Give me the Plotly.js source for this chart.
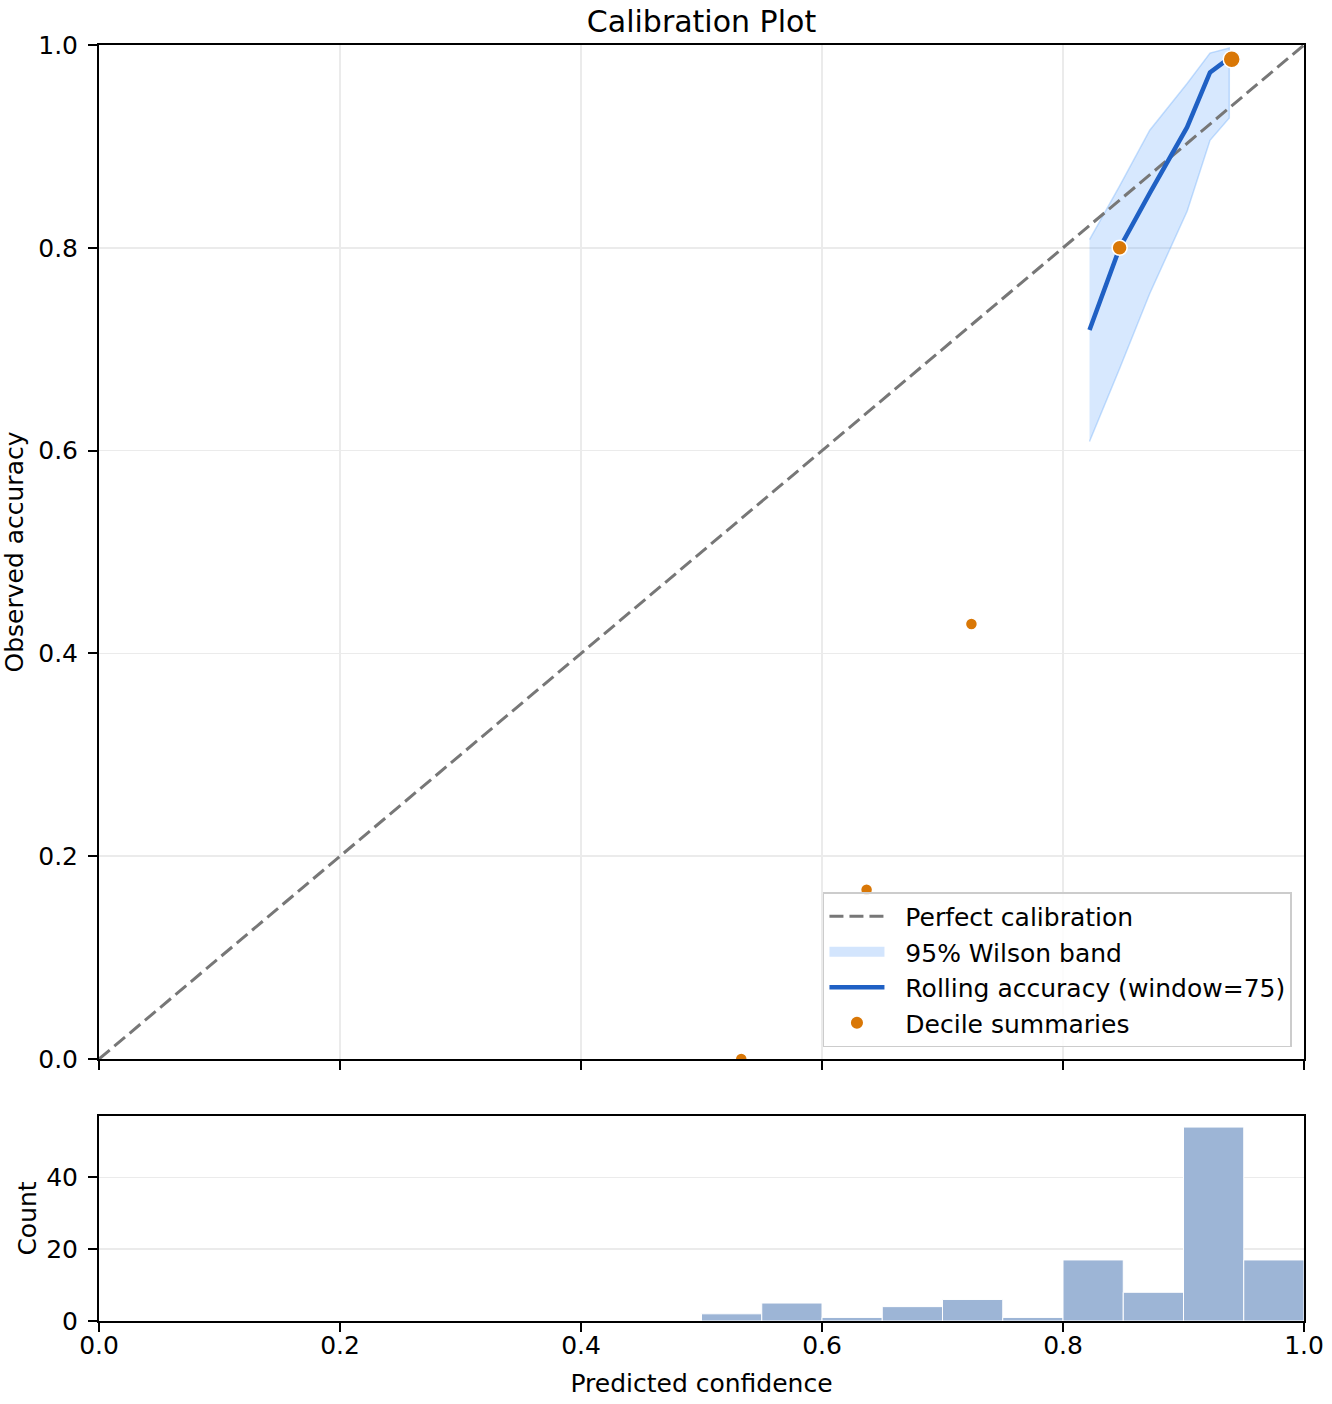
<!DOCTYPE html>
<html>
<head>
<meta charset="utf-8">
<script src="https://cdn.plot.ly/plotly-3.0.1.min.js"></script>
<style>
  html, body { margin: 0; padding: 0; background: #fff; }
  #chart { width: 1332px; height: 1404px; }
</style>
</head>
<body>
<div id="chart"></div>
<script>
// perfect calibration diagonal
var diagX = [0, 1];
var diagY = [0, 1];

// rolling accuracy (window=75) and its 95% Wilson band
var rollX = [0.822, 0.847, 0.872, 0.903, 0.922, 0.938];
var rollY = [0.719, 0.800, 0.854, 0.919, 0.973, 0.987];
var bandUpper = [0.808, 0.861, 0.916, 0.962, 0.992, 0.997];
var bandLower = [0.609, 0.681, 0.755, 0.836, 0.906, 0.928];

// decile summaries
var decileX = [0.533, 0.637, 0.724, 0.847, 0.940];
var decileY = [0.000, 0.167, 0.429, 0.800, 0.986];

// histogram of predicted confidence
var binStarts = [0.50, 0.55, 0.60, 0.65, 0.70, 0.75, 0.80, 0.85, 0.90, 0.95];
var binCounts = [2, 5, 1, 4, 6, 1, 17, 8, 54, 17];

var fontFam = 'DejaVu Sans, sans-serif';
var pad = '\u00a0\u00a0'; // a bit of room between legend handle and text

// polygon for the band: upper forward, lower backward
var bandX = rollX.concat(rollX.slice().reverse());
var bandY = bandUpper.concat(bandLower.slice().reverse());

var traces = [
    {
        x: bandX, y: bandY,
        type: 'scatter', mode: 'lines',
        fill: 'toself',
        fillcolor: 'rgba(96,165,250,0.25)',
        line: {color: 'rgba(96,165,250,0.35)', width: 1.5},
        showlegend: false,
        xaxis: 'x', yaxis: 'y'
    },
    // legend-only handle for the band (a filled rectangle look)
    {
        x: [null], y: [null],
        type: 'scatter', mode: 'lines',
        line: {color: '#d3e5fd', width: 18},
        name: pad + '95% Wilson band',
        legendrank: 2,
        xaxis: 'x', yaxis: 'y'
    },
    {
        x: diagX, y: diagY,
        type: 'scatter', mode: 'lines',
        line: {color: '#777777', width: 3, dash: '14px,6px'},
        name: pad + 'Perfect calibration',
        legendrank: 1,
        xaxis: 'x', yaxis: 'y'
    },
    {
        x: rollX, y: rollY,
        type: 'scatter', mode: 'lines',
        line: {color: '#1f60c4', width: 4.5},
        name: pad + 'Rolling accuracy (window=75)',
        legendrank: 3,
        xaxis: 'x', yaxis: 'y'
    },
    {
        x: decileX, y: decileY,
        type: 'scatter', mode: 'markers',
        marker: {color: '#d97706', opacity: 1, size: [12, 12, 12, 15, 17], line: {color: '#ffffff', width: 1.5}},
        name: pad + 'Decile summaries',
        legendrank: 4,
        xaxis: 'x', yaxis: 'y'
    },
    {
        x: binStarts, y: binCounts,
        type: 'bar',
        width: 0.05, offset: 0,
        marker: {color: '#9db5d6', line: {color: '#ffffff', width: 1}},
        showlegend: false,
        xaxis: 'x2', yaxis: 'y2'
    }
];

var axisCommon = {
    showline: true, linecolor: '#000', linewidth: 2, mirror: true,
    ticks: 'outside', ticklen: 9, tickwidth: 2, tickcolor: '#000',
    showgrid: true, gridcolor: '#ebebeb', gridwidth: 1.5,
    zeroline: false,
    tickfont: {family: fontFam, size: 25, color: '#000'}
};

var layout = {
    width: 1332, height: 1404,
    margin: {l: 99, r: 28, t: 45, b: 83},
    paper_bgcolor: '#fff', plot_bgcolor: '#fff',
    font: {family: fontFam, size: 25, color: '#000'},
    title: {
        text: 'Calibration Plot',
        font: {family: fontFam, size: 30, color: '#000'},
        x: 0.5, xref: 'paper', xanchor: 'center',
        y: 1 - 21 / 1404, yref: 'container', yanchor: 'middle'
    },
    showlegend: true,
    legend: {
        x: 0.990, y: 0.2147, xanchor: 'right', yanchor: 'bottom',
        bgcolor: 'rgba(255,255,255,0.85)',
        bordercolor: '#cccccc', borderwidth: 1.5,
        font: {family: fontFam, size: 25, color: '#000'},
        itemwidth: 55,
        tracegroupgap: 0
    },
    xaxis: Object.assign({}, axisCommon, {
        domain: [0, 1], anchor: 'y',
        range: [0, 1], dtick: 0.2, tick0: 0,
        showticklabels: false
    }),
    yaxis: Object.assign({}, axisCommon, {
        domain: [0.2053, 1], anchor: 'x',
        range: [0, 1], dtick: 0.2, tick0: 0, tickformat: '.1f',
        ticklabelstandoff: 5,
        title: {text: 'Observed accuracy', font: {family: fontFam, size: 25}, standoff: 12}
    }),
    xaxis2: Object.assign({}, axisCommon, {
        domain: [0, 1], anchor: 'y2', matches: 'x',
        range: [0, 1], dtick: 0.2, tick0: 0, tickformat: '.1f',
        showgrid: false,
        ticklabelstandoff: -8,
        title: {text: 'Predicted confidence', font: {family: fontFam, size: 25}, standoff: 15}
    }),
    yaxis2: Object.assign({}, axisCommon, {
        domain: [0, 0.1607], anchor: 'x2',
        range: [0, 57.1], dtick: 20, tick0: 0,
        ticklabelstandoff: 5,
        title: {text: 'Count', font: {family: fontFam, size: 25}, standoff: 2}
    })
};

Plotly.newPlot('chart', traces, layout, {displayModeBar: false, staticPlot: true});
</script>
</body>
</html>
